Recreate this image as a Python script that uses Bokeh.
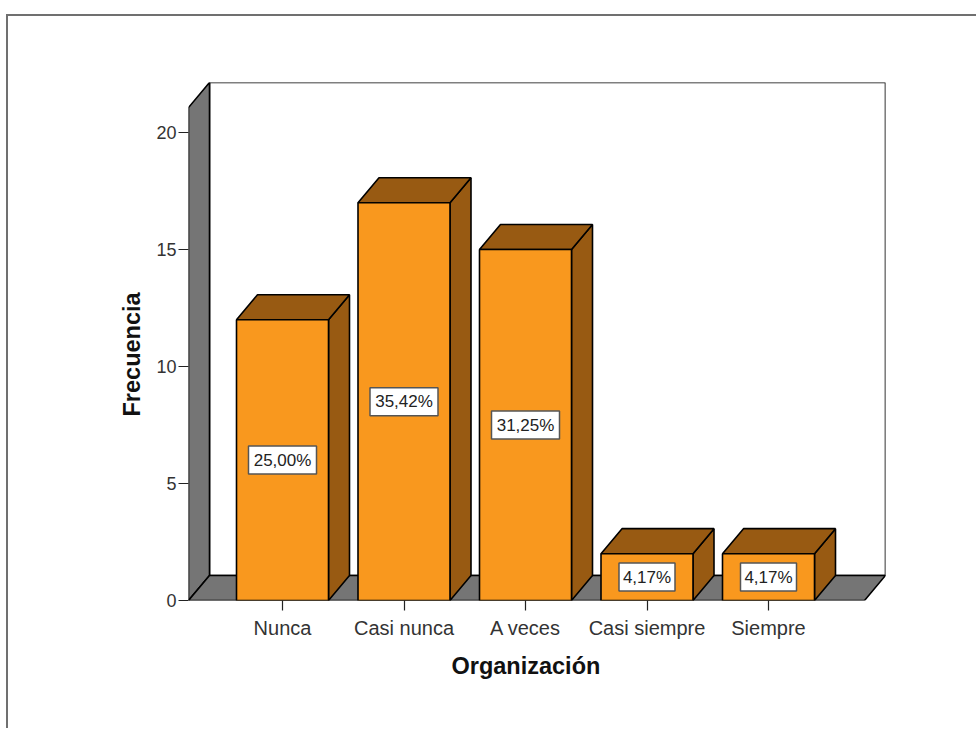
from bokeh.plotting import figure
from bokeh.models import FixedTicker, ColumnDataSource, Title
from bokeh.embed import file_html
from bokeh.resources import INLINE
from bokeh.core.properties import value

categories = ["Nunca", "Casi nunca", "A veces", "Casi siempre", "Siempre"]
frecuencia = [12, 17, 15, 2, 2]
porcentaje = ["25,00%", "35,42%", "31,25%", "4,17%", "4,17%"]
y_ticks = [0, 5, 10, 15, 20]

W, H = 977, 729
L, R, T, B = 188, 885, 82, 600
STEP = 121.5
PXY = 23.35
DX = 21 / STEP
DY = 25 / PXY
HW = 46 / STEP
x0 = (188 - 282) / STEP
x1 = (885 - 282) / STEP
front_right = x1 - DX
y_front_top = 21.07

FONT = "Liberation Sans"
ORANGE = "#F9981E"
BROWN = "#985A12"
GRAY = "#757575"
FRAME = "#707070"

p = figure(width=W, height=H, output_backend="svg", toolbar_location=None,
           x_range=(x0, x1), y_range=(0, y_front_top + DY),
           min_border_left=L, min_border_right=W - R, min_border_top=T, min_border_bottom=H - B,
           background_fill_color="white", border_fill_color=None, outline_line_color=None)
p.styles = {
    "background-color": "white",
    "background-image": f"linear-gradient({FRAME},{FRAME}),linear-gradient({FRAME},{FRAME})",
    "background-size": "970px 2px, 2px 714px",
    "background-position": "6px 14px, 6px 14px",
    "background-repeat": "no-repeat",
}
p.grid.visible = False

p.xaxis.ticker = FixedTicker(ticks=list(range(len(categories))))
p.xaxis.major_label_overrides = {i: c for i, c in enumerate(categories)}
p.yaxis.ticker = FixedTicker(ticks=y_ticks)
for ax in (p.xaxis[0], p.yaxis[0]):
    ax.axis_line_color = None
    ax.minor_tick_line_color = None
    ax.major_tick_in = 0
    ax.major_tick_out = 10
    ax.major_tick_line_color = "#222222"
    ax.major_tick_line_width = 1.2
    ax.major_label_text_font = FONT
    ax.major_label_text_color = "#333333"
p.xaxis[0].major_label_text_font_size = "20px"
p.yaxis[0].major_label_text_font_size = "18px"
p.xaxis.major_label_standoff = 6
p.yaxis.major_label_standoff = 2

p.add_layout(Title(text="Organización", align="left", offset=263, standoff=19,
                   text_font=FONT, text_font_style="bold", text_font_size="23.5px", text_color="#111111"), "below")
p.add_layout(Title(text="Frecuencia", align="left", offset=184, standoff=18,
                   text_font=FONT, text_font_style="bold", text_font_size="23.5px", text_color="#111111"), "left")

LW = 1.6
# walls and floor
p.patch([x0 + DX, x1, x1, x0 + DX], [DY, DY, y_front_top + DY, y_front_top + DY],
        fill_color="white", line_color="black", line_width=LW)
p.patch([x0, x0 + DX, x0 + DX, x0], [0, DY, y_front_top + DY, y_front_top],
        fill_color=GRAY, line_color="black", line_width=LW)
p.patch([x0, x0 + DX, x1, front_right], [0, DY, DY, 0],
        fill_color=GRAY, line_color="black", line_width=LW)

# bars
for i, v in enumerate(frecuencia):
    a, b = i - HW, i + HW
    p.patch([b, b + DX, b + DX, b], [0, DY, v + DY, v],
            fill_color=BROWN, line_color="black", line_width=LW)
    p.patch([a, a + DX, b + DX, b], [v, v + DY, v + DY, v],
            fill_color=BROWN, line_color="black", line_width=LW)
    p.patch([a, b, b, a], [0, 0, v, v],
            fill_color=ORANGE, line_color="black", line_width=LW)

# value boxes
xs = list(range(len(categories)))
ys = [v / 2 for v in frecuencia]
box_w = [68 if len(t) > 5 else 56 for t in porcentaje]
p.rect("x", "y", width="w", height=28, width_units="screen", height_units="screen",
       source=ColumnDataSource(dict(x=xs, y=ys, w=box_w)),
       fill_color="white", line_color="#555555", line_width=1.5)
p.text("x", "y", text="t", source=ColumnDataSource(dict(x=xs, y=ys, t=porcentaje)),
       text_align="center", text_baseline="middle",
       text_font=value(FONT), text_font_size="17px", text_color="#222222")

open("out.html", "w").write(file_html(p, INLINE))
